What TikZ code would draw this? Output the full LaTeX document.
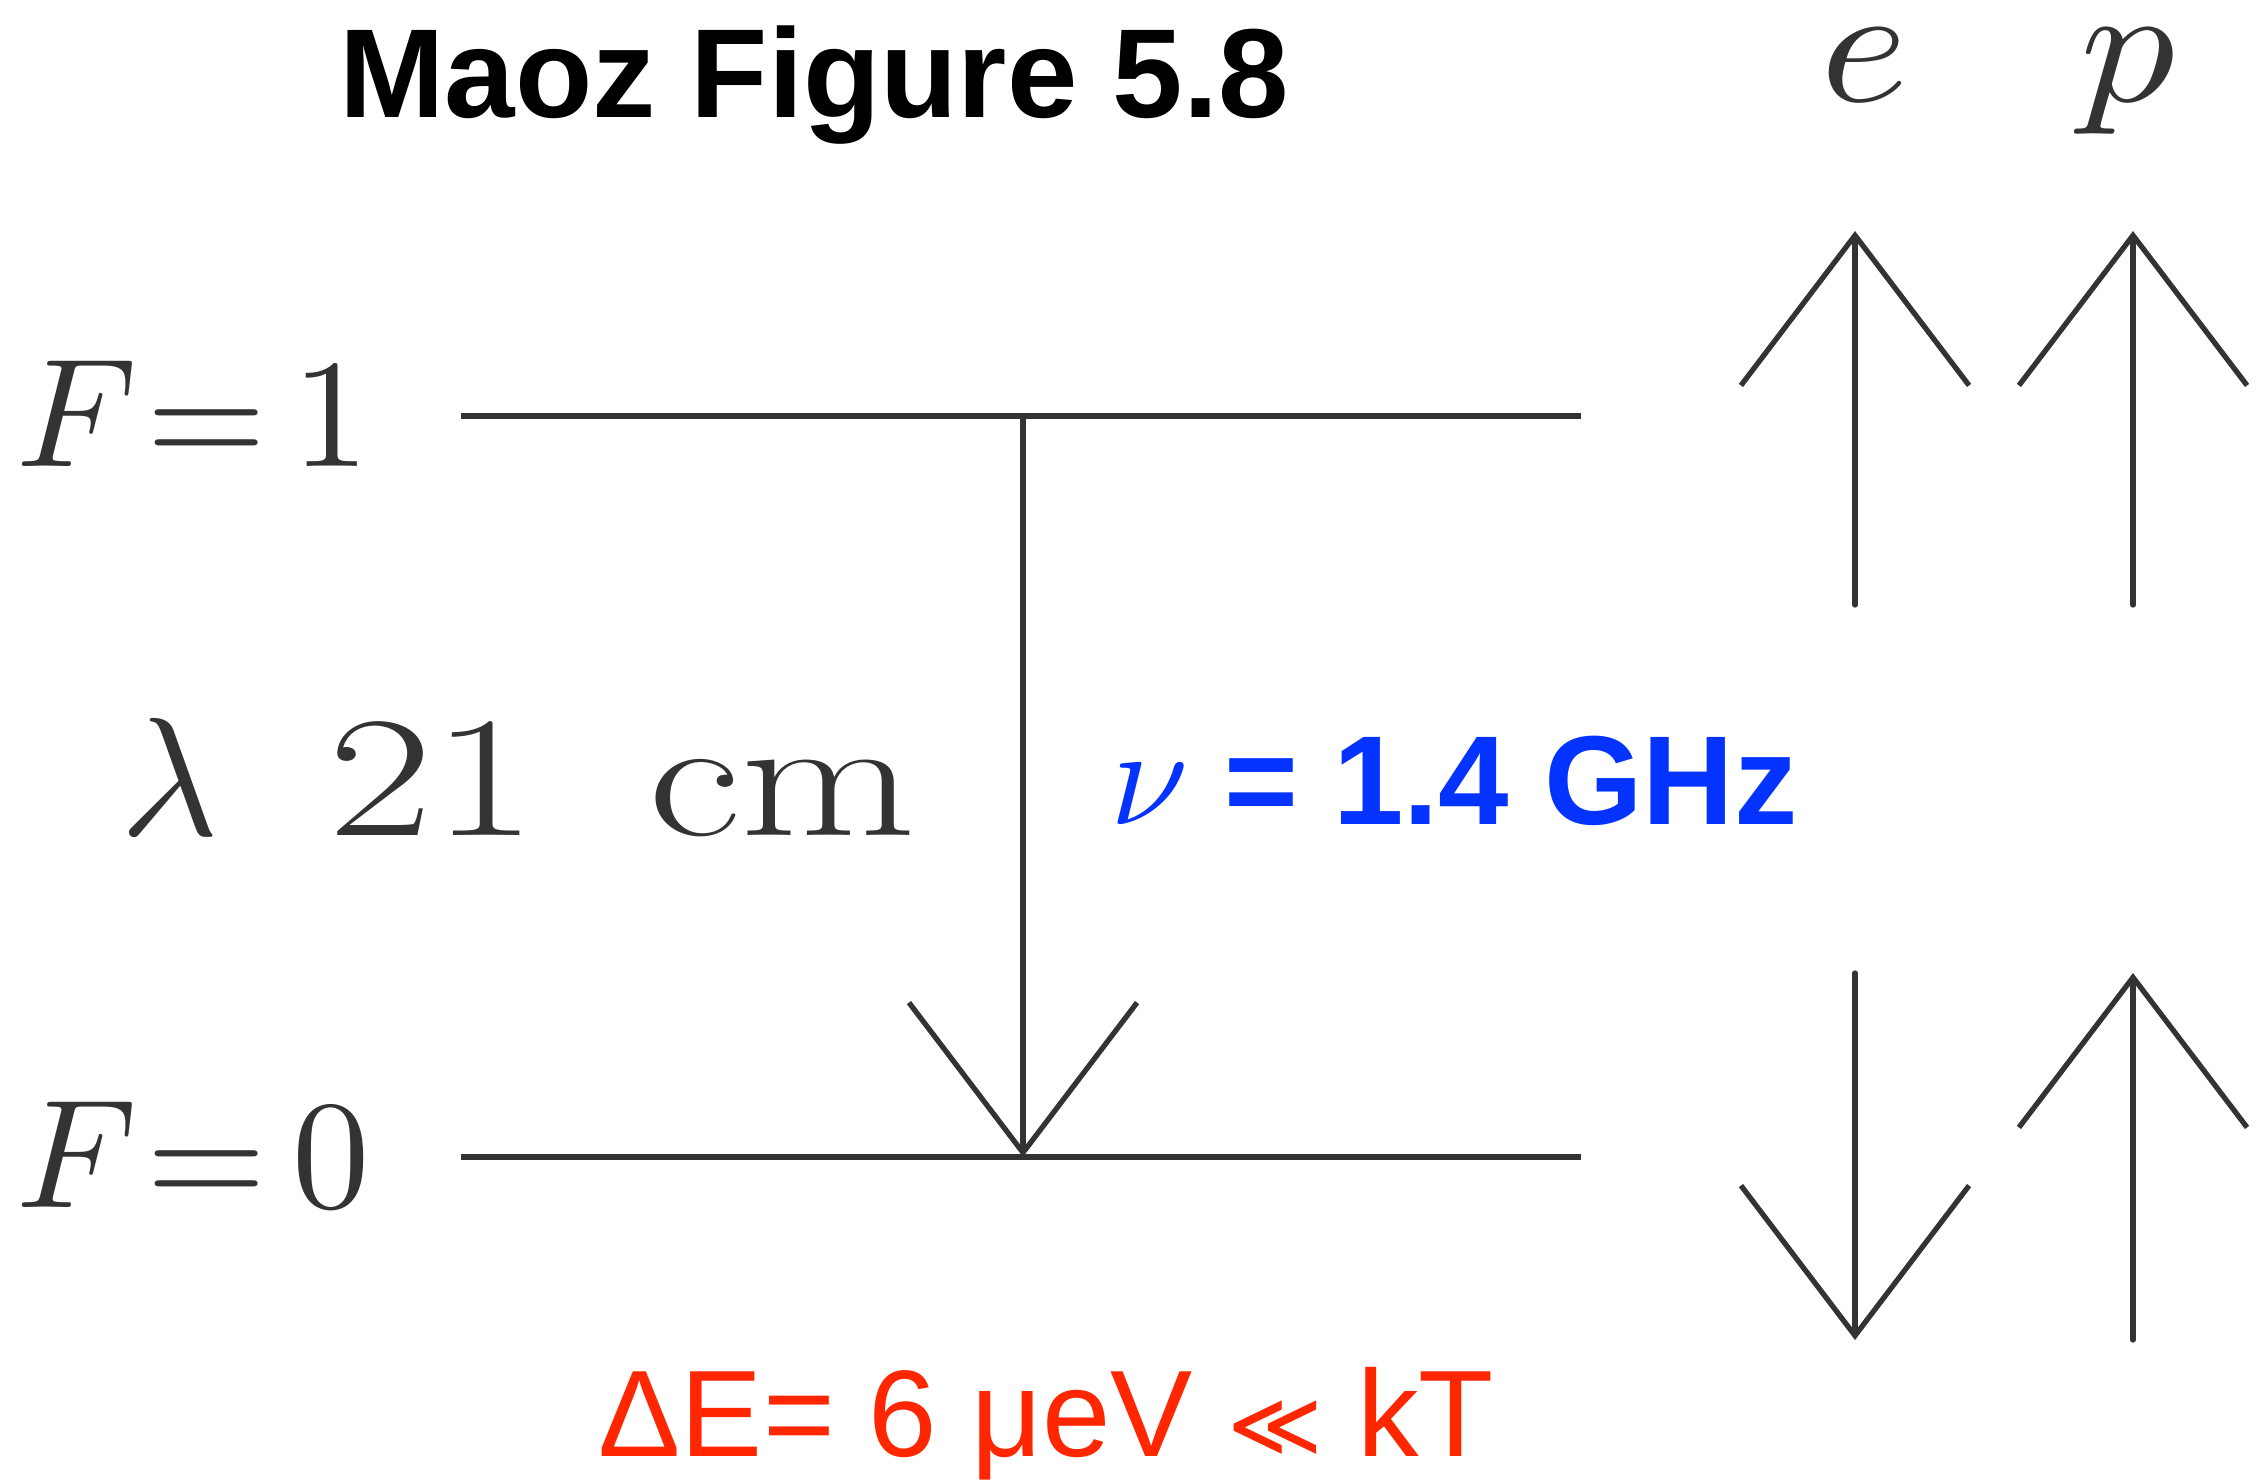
\documentclass[tikz,border=0pt]{standalone}
\usepackage{fontspec}
\usepackage{graphicx}
\usepackage{tikz}
\usetikzlibrary{arrows.meta,positioning,calc}
\newfontfamily\helv{Liberation Sans}
\newfontfamily\symfont{DejaVu Sans}
\definecolor{scan}{HTML}{333333}
\definecolor{nublue}{HTML}{0433FF}
\definecolor{dered}{HTML}{FF2600}
% math at large sizes
\newcommand{\bigmath}[2]{\scalebox{#1}{\normalsize$#2$}}

\begin{document}
\begin{tikzpicture}[x=0.01cm, y=-0.01cm,
    levelline/.style={line width=1.6pt, scan},
    spinarrow/.style={line width=1.5pt, scan, line cap=round, line join=round,
      -{Straight Barb[length=15mm,width=22.8mm]}},
    scantext/.style={text=scan, inner sep=0pt}]
    \useasboundingbox (0,0) rectangle (2260,1482);
    % title
    \node[anchor=base, inner sep=0pt, font=\helv\bfseries\fontsize{36}{42}\selectfont] (title) at (814,118) {Maoz Figure 5.8};
    % F=1 and F=0 levels
    \coordinate (F1l) at (461,416);
    \coordinate (F1r) at (1581,416);
    \coordinate (F0l) at (461,1157);
    \coordinate (F0r) at (1581,1157);
    \draw[levelline] (F1l) -- (F1r);
    \draw[levelline] (F0l) -- (F0r);
    \node[scantext, anchor=base west] (labF1) at (16,466) {\bigmath{4.4}{F\mkern1mu{=}\mkern3mu 1}};
    \node[scantext, anchor=base west] (labF0) at (16,1207) {\bigmath{4.4}{F\mkern1mu{=}\mkern3mu 0}};
    % transition
    \coordinate (top) at (1023,416);
    \coordinate (bot) at (1023,1157);
    \draw[spinarrow] (top) -- (bot);
    \node[scantext, anchor=base west, font=\fontsize{49}{54}\selectfont] (lambda) at (120,835)
      {\bigmath{4.8}{\lambda}\hspace{31pt}\scalebox{1.32}[1]{21\hspace{24pt}cm}};
    \node[anchor=base west, inner sep=0pt, text=nublue, font=\helv\bfseries\fontsize{36}{42}\selectfont] (nu) at (1110,824)
      {\bigmath{4}{\nu} = 1.4 GHz};
    % spins e and p
    \node[scantext, anchor=base] (e) at (1864,102) {\scalebox{1.12}[1]{\bigmath{4.8}{e}}};
    \node[scantext, anchor=base] (p) at (2128,102) {\scalebox{1.12}[1]{\bigmath{4.8}{p}}};
    \coordinate (eUpTail) at (1855,605);
    \coordinate (eUpTip) at (1855,231);
    \coordinate (pUpTail) at (2133,605);
    \coordinate (pUpTip) at (2133,231);
    \coordinate (eDnTail) at (1855,973);
    \coordinate (eDnTip) at (1855,1340);
    \coordinate (pLoTail) at (2133,1340);
    \coordinate (pLoTip) at (2133,973);
    \draw[spinarrow] (eUpTail) -- (eUpTip);
    \draw[spinarrow] (pUpTail) -- (pUpTip);
    \draw[spinarrow] (eDnTail) -- (eDnTip);
    \draw[spinarrow] (pLoTail) -- (pLoTip);
    % energy
    \node[anchor=base west, inner sep=0pt, text=dered, font=\helv\fontsize{35}{40}\selectfont] (dE) at (598,1456)
      {ΔE= 6 μeV {\symfont\fontsize{26}{30}\selectfont ≪} kT};
\end{tikzpicture}
\end{document}
